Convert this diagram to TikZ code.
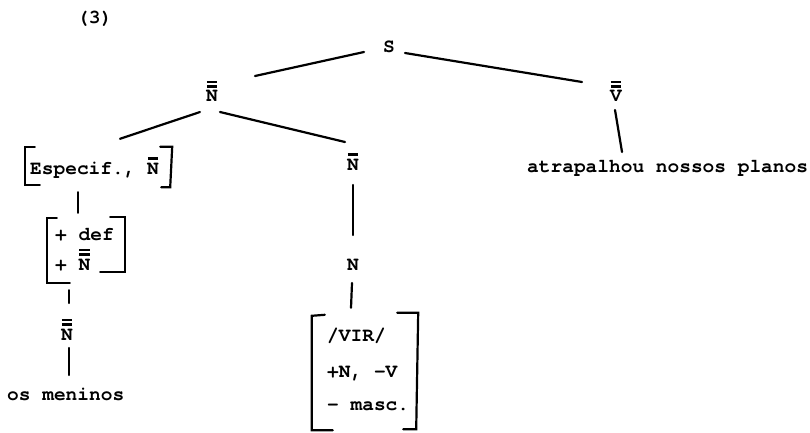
\documentclass[tikz,border=0pt]{standalone}
\usepackage{fontspec}
\setmainfont{texgyrecursor-bold.otf}
\usetikzlibrary{calc}
\newcommand\barone[1]{\ooalign{#1\cr\hidewidth\rule[0.74em]{0.52em}{0.11em}\hidewidth\cr}}
\newcommand\bartwo[1]{\ooalign{#1\cr\hidewidth\rule[0.74em]{0.52em}{0.11em}\hidewidth\cr\hidewidth\rule[0.95em]{0.52em}{0.11em}\hidewidth\cr}}
\begin{document}
\begin{tikzpicture}[x=1pt,y=-1pt,
  lbl/.style={inner sep=0pt, anchor=base, font=\fontsize{19.5}{23}\selectfont},
  lblw/.style={inner sep=0pt, anchor=base west, font=\fontsize{19.5}{23}\selectfont},
  bbox/.style={inner sep=0pt, draw=none},
  conn/.style={line width=2.2pt, line cap=round},
  brk/.style={line width=2.2pt, line cap=round, line join=miter}]
\useasboundingbox (0,0) rectangle (810,433);
% labels
\node[lblw] (num) at (77,24) {(3)};
\node[lbl] (S) at (389,53) {S};
\node[lbl] (NNtop) at (212,102) {\bartwo{N}};
\node[lbl] (VV) at (616,102) {\bartwo{V}};
\node[lblw] (atr) at (527,172) {atrapalhou nossos planos};
% Especif box
\node[bbox, minimum width=147pt, minimum height=38pt] (esp) at (98.5,166) {};
\node[lblw] (espt) at (30,174) {Especif., \barone{N}};
% +def box
\node[bbox, minimum width=78pt, minimum height=66pt] (pdef) at (86,250) {};
\node[lblw] (pdefa) at (55,240) {+ def};
\node[lblw] (pdefb) at (55,270) {+ \bartwo{N}};
\node[lbl] (NNlow) at (67,340) {\bartwo{N}};
\node[lblw] (men) at (7,400) {os meninos};
% right branch
\node[lbl] (Nbar) at (353,170) {\barone{N}};
\node[lbl] (N) at (353,270) {N};
\node[bbox, minimum width=106pt, minimum height=117pt] (vir) at (365,371.5) {};
\node[lblw] (vira) at (327,341) {/VIR/};
\node[lblw] (virb) at (327,377) {+N, -V};
\node[lblw] (virc) at (327,410) {- masc.};
% brackets
\draw[brk] ([xshift=10pt]esp.north west) -- (esp.north west) -- (esp.south west) -- ([xshift=15pt]esp.south west);
\draw[brk] ([xshift=-12pt]esp.north east) -- (esp.north east) -- ([xshift=-2pt,yshift=-2pt]esp.south east) -- ([xshift=-11pt,yshift=-2pt]esp.south east);
\draw[brk] ([xshift=10pt,yshift=-1pt]pdef.north west) -- ([yshift=-1pt]pdef.north west) -- (pdef.south west) -- ([xshift=23pt]pdef.south west);
\draw[brk] ([xshift=-15pt]pdef.north east) -- (pdef.north east) -- ([yshift=11pt]pdef.south east) -- ([xshift=-25pt,yshift=11pt]pdef.south east);
\draw[brk] ([xshift=13pt,yshift=-2pt]vir.north west) -- ([yshift=-3pt]vir.north west) -- (vir.south west) -- ([xshift=21pt]vir.south west);
\draw[brk] ([xshift=-21pt]vir.north east) -- (vir.north east) -- ([xshift=-2pt,yshift=1pt]vir.south east) -- ([xshift=-15pt,yshift=1pt]vir.south east);
% connectors
\draw[conn] ($(S.base)+(-25,-1)$) -- ($(NNtop.base)+(43,-26)$);
\draw[conn] ($(S.base)+(16,0)$) -- ($(VV.base)+(-34,-20)$);
\draw[conn] ($(VV.base)+(-1,8)$) -- ($(atr.base west)+(95,-20)$);
\draw[conn] ($(NNtop.base)+(-12,10)$) -- ($(esp.north)+(21.5,-8)$);
\draw[conn] ($(NNtop.base)+(8,10)$) -- ($(Nbar.base)+(-8,-28)$);
\draw[conn] ($(Nbar.base)+(0,15)$) -- ($(N.base)+(0,-35)$);
\draw[conn] ($(N.base)+(-1,13)$) -- ($(vir.north)+(-14,-5)$);
\draw[conn] ($(esp.south)+(-20.5,7)$) -- ($(pdef.north)+(-8,-4)$);
\draw[conn] ($(pdef.south)+(-17,7)$) -- ($(NNlow.base)+(2,-37)$);
\draw[conn] ($(NNlow.base)+(2,8)$) -- ($(men.base west)+(62,-25)$);
\end{tikzpicture}
\end{document}
